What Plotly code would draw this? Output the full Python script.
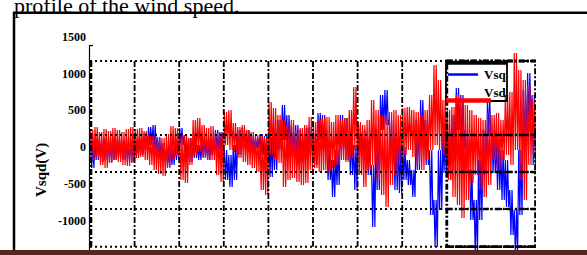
import numpy as np
import plotly.graph_objects as go

# ---------------- data ----------------
# time grid: 100 columns of 0.1 s over 0..10 s; each column stores the
# highest and lowest value reached by the signal in that column (V)
t_start = np.arange(100) / 10.0

red_hi = [
    231, 271, 204, 244, 217, 258, 231, 204, 244, 271,
    244, 258, 217, 163, 149, 136, 122, 176, 285, 258,
    163, 149, 122, 366, 394, 299, 258, 285, 204, 190,
    475, 502, 326, 271, 299, 231, 204, 163, 149, 136,
    611, 529, 434, 366, 299, 366, 231, 258, 299, 407,
    339, 366, 394, 407, 339, 434, 366, 394, 502, 814,
    339, 299, 366, 638, 502, 434, 394, 475, 502, 434,
    529, 543, 502, 475, 434, 502, 706, 1113, 909, 638,
    502, 543, 706, 638, 570, 502, 434, 394, 366, 461,
    434, 461, 366, 706, 746, 1276, 1045, 909, 841, 638]
red_lo = [
    -176, -149, -244, -285, -217, -176, -204, -244, -258, -217,
    -136, -136, -176, -244, -312, -366, -394, -285, -176, -122,
    -448, -489, -244, -109, -68, -149, -176, -176, -380, -475,
    27, -41, -68, -149, -204, -244, -285, -339, -584, -651,
    -109, -176, -217, -543, -448, -421, -475, -516, -489, -312,
    -285, -339, -312, -339, -285, -244, -176, -204, -149, -41,
    -380, -543, -312, -244, -448, -651, -814, -516, -380, -244,
    -109, -41, -136, -244, -312, -176, -41, 27, -41, -109,
    -448, -679, -787, -963, -719, -489, -380, -584, -679, -516,
    -176, -312, -176, -109, -244, -41, -448, -719, -244, -109]
blue_hi = [
    95, 122, 95, 122, 95, 122, 95, 95, 68, 95,
    95, 122, 190, 271, 299, 136, 54, -41, -14, 68,
    258, 163, 122, 95, 27, 95, 68, 95, 231, 204,
    -41, -109, 27, 231, 258, 231, 163, 122, 176, 149,
    136, 163, 366, 570, 434, 299, 299, 231, 258, 271,
    163, 461, 434, -41, -176, -41, 434, 394, 163, 27,
    299, 231, 95, -244, 231, 706, 773, 366, 95, 27,
    0, -176, -312, 366, 638, 366, -41, -719, -41, 190,
    95, 434, 801, 706, 231, -312, -719, -176, 231, 638,
    163, 95, -41, -176, -584, -855, -41, 773, 1004, 706]
blue_lo = [
    -285, -176, -204, -176, -204, -176, -149, -176, -204, -204,
    -149, -109, -41, 27, -41, -109, -176, -271, -244, -176,
    27, -149, -204, -149, -176, -136, -176, -109, -41, -81,
    -448, -543, -448, -109, -41, -68, -41, -14, -109, -176,
    -407, -312, -41, 95, -41, -136, -244, -217, -176, -109,
    -244, 95, -41, -448, -679, -516, -41, -176, -380, -584,
    -109, -149, -380, -1086, -584, 231, 299, -244, -584, -624,
    -448, -516, -679, -312, 95, -244, -923, -1357, -855, -353,
    -448, -176, 231, -41, -380, -991, -1450, -991, -380, 163,
    -353, -584, -719, -814, -1194, -1450, -923, -41, 366, -244]

y_tick_vals = [1500, 1000, 500, 0, -500, -1000]
y_tick_text = ["1500", "1000", "500", "0", "-500", "-1000"]
grid_y_vals = [1167, 163, -339, -841, -1353]
grid_x_vals = [1, 2, 3, 4, 5, 6, 7]
series_names = ["Vsq", "Vsd"]


def hatch(hi, lo):
    # draw each column's range as two hi->lo strokes (min/max envelope)
    n = len(t_start)
    x = np.empty(4 * n)
    y = np.empty(4 * n)
    for k, (off, src) in enumerate([(0.0125, hi), (0.0375, lo), (0.0625, hi), (0.0875, lo)]):
        x[k::4] = t_start + off
        y[k::4] = src
    return x, y


SERIF = "Liberation Serif"
fig = go.Figure()
bx, by = hatch(blue_hi, blue_lo)
rx, ry = hatch(red_hi, red_lo)
fig.add_trace(go.Scatter(x=bx, y=by, mode="lines", name=series_names[0],
                         line=dict(color="#0000ff", width=1.2)))
fig.add_trace(go.Scatter(x=rx, y=ry, mode="lines", name=series_names[1],
                         line=dict(color="#ff0000", width=1.2)))

# pixel -> paper helpers (plot area: x 90..536, y 30..250)
def px(x):
    return (x - 90) / 446.0


def py(y):
    return (250 - y) / 220.0


shapes = []
# page decorations
shapes.append(dict(type="line", xref="paper", yref="paper", x0=px(13), x1=px(590),
                   y0=py(12.7), y1=py(12.7), line=dict(color="black", width=2.5)))
shapes.append(dict(type="line", xref="paper", yref="paper", x0=px(14), x1=px(14),
                   y0=py(12), y1=py(258), line=dict(color="black", width=2.5)))
shapes.append(dict(type="rect", xref="paper", yref="paper", x0=px(-2), x1=px(590),
                   y0=py(250), y1=py(258), fillcolor="#5b2420", line=dict(width=0)))
# y axis line + top tick
shapes.append(dict(type="line", xref="paper", yref="paper", x0=px(89.5), x1=px(89.5),
                   y0=py(45), y1=py(250), line=dict(color="black", width=1.2)))
shapes.append(dict(type="line", xref="paper", yref="paper", x0=px(89.5), x1=px(93),
                   y0=py(45.5), y1=py(45.5), line=dict(color="black", width=1.2)))
DOT = "2px,3px"
DASHDOT = "6px,2px,2px,2px"
for gy in grid_y_vals:
    shapes.append(dict(type="line", xref="x", yref="y", x0=0, x1=10, y0=gy, y1=gy,
                       line=dict(color="black", width=2, dash=DOT)))
    shapes.append(dict(type="line", xref="x", yref="y", x0=8, x1=10, y0=gy, y1=gy,
                       line=dict(color="black", width=2.5, dash=DASHDOT)))
for gx in grid_x_vals:
    shapes.append(dict(type="line", xref="x", yref="y", x0=gx, x1=gx,
                       y0=grid_y_vals[0], y1=grid_y_vals[-1],
                       line=dict(color="black", width=1.8, dash=DASHDOT)))
shapes.append(dict(type="line", xref="x", yref="y", x0=0.02, x1=0.02,
                   y0=grid_y_vals[0], y1=grid_y_vals[-1],
                   line=dict(color="black", width=2.8, dash=DASHDOT)))
# highlighted (dashed) box
shapes.append(dict(type="rect", xref="x", yref="y", x0=8, x1=9.99,
                   y0=grid_y_vals[0], y1=grid_y_vals[-1],
                   line=dict(color="black", width=2.8, dash=DASHDOT)))
# legend
shapes.append(dict(type="rect", xref="x", yref="y", x0=7.982, x1=9.35, y0=1153, y1=624,
                   line=dict(color="black", width=1.8)))
shapes.append(dict(type="line", xref="x", yref="y", x0=7.982, x1=9.35, y0=1140, y1=1140,
                   line=dict(color="black", width=3.5)))
shapes.append(dict(type="line", xref="x", yref="y", x0=8.027, x1=8.70, y0=984, y1=984,
                   line=dict(color="#0000ff", width=2.5)))
shapes.append(dict(type="line", xref="x", yref="y", x0=7.982, x1=8.99, y0=631, y1=631,
                   line=dict(color="#ff0000", width=4.5)))

annotations = [
    dict(text="profile of the wind speed.", xref="paper", yref="paper",
         x=px(12), y=py(5.5), xanchor="left", yanchor="middle", showarrow=False,
         font=dict(family=SERIF, size=22, color="black")),
    dict(text="Vsqd(V)", xref="paper", yref="paper", x=px(41), y=py(170),
         textangle=-90, showarrow=False, xanchor="center", yanchor="middle",
         font=dict(family=SERIF, size=15, color="black", weight="bold")),
    dict(text=series_names[0], xref="x", yref="y", x=8.79, y=984, xanchor="left",
         yanchor="middle", showarrow=False,
         font=dict(family=SERIF, size=13, color="black", weight="bold")),
    dict(text=series_names[1], xref="x", yref="y", x=8.79, y=746, xanchor="left",
         yanchor="middle", showarrow=False,
         font=dict(family=SERIF, size=13, color="black", weight="bold")),
]

fig.update_layout(
    width=587, height=255,
    margin=dict(l=90, r=51, t=30, b=5),
    paper_bgcolor="white", plot_bgcolor="rgba(0,0,0,0)",
    showlegend=False, hovermode=False,
    shapes=shapes, annotations=annotations,
    xaxis=dict(range=[0, 10], showgrid=False, zeroline=False, showline=False,
               showticklabels=False, ticks=""),
    yaxis=dict(range=[-1398, 1588], showgrid=False, zeroline=False, showline=False,
               tickvals=y_tick_vals, ticktext=y_tick_text, ticks="",
               ticklabelstandoff=3,
               tickfont=dict(family=SERIF, size=12, color="black", weight="bold")),
)

fig.write_html("out.html", config={"displayModeBar": False},
               post_script="document.body.style.margin='0';document.body.style.overflow='hidden';")
